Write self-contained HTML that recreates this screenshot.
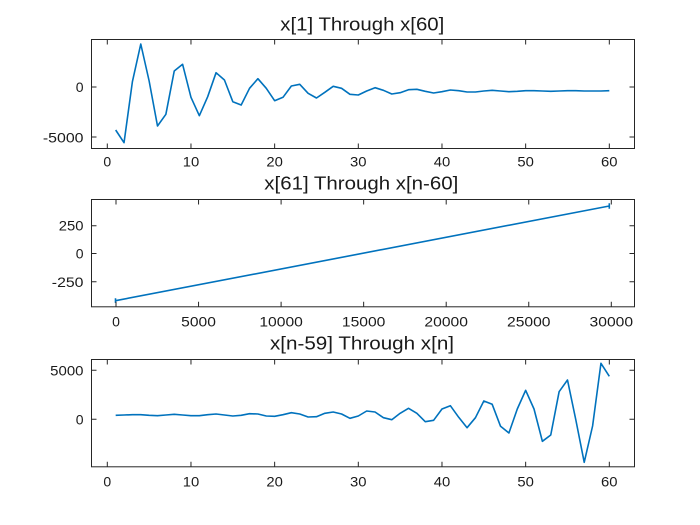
<!DOCTYPE html>
<html>
<head>
<meta charset="utf-8">
<style>
  html,body{margin:0;padding:0;background:#fff;}
  svg{display:block;}
  text{font-family:"Liberation Sans",sans-serif;fill:#1a1a1a;}
  .tk{font-size:14px;}
  .ti{font-size:18px;}
</style>
</head>
<body>
<svg width="700" height="525" viewBox="0 0 700 525" xmlns="http://www.w3.org/2000/svg">
<rect width="700" height="525" fill="#fff"/>

<!-- ===== Panel 1 ===== -->
<text class="ti" x="362.3" y="30.5" text-anchor="middle" textLength="164" lengthAdjust="spacingAndGlyphs">x[1] Through x[60]</text>
<polyline fill="none" stroke="#0072BD" stroke-width="1.6" stroke-linejoin="round" points="
115.67,130 124.03,142.7 132.40,81.7 140.77,44 149.14,81 157.50,126 165.87,114.3 174.24,71 182.60,64.3 190.97,97.3
199.34,115.7 207.70,96.7 216.07,72.7 224.44,80 232.81,101.7 241.17,105 249.54,88.3 257.91,78.7 266.27,88.3 274.64,100.7
283.01,97.3 291.37,86 299.74,84.3 308.11,93.3 316.48,98 324.84,92.3 333.21,86.3 341.58,88.3 349.94,94.3 358.31,95
366.68,91 375.04,87.7 383.41,90.3 391.78,94 400.15,92.7 408.51,89.7 416.88,89.3 425.25,91.3 433.61,93 441.98,91.7
450.35,90 458.71,90.7 467.08,92 475.45,92 483.82,91 492.18,90.3 500.55,91 508.92,91.7 517.28,91.3 525.65,90.7
534.02,90.7 542.38,91 550.75,91.3 559.12,91 567.49,90.7 575.85,90.7 584.22,91 592.59,91 600.95,91 609.32,90.7"/>
<g stroke="#262626" stroke-width="1" fill="none">
  <rect x="91.5" y="39.5" width="543" height="109"/>
  <!-- x ticks bottom & top -->
  <path d="M107.3,148.5v-5M190.97,148.5v-5M274.64,148.5v-5M358.31,148.5v-5M441.98,148.5v-5M525.65,148.5v-5M609.32,148.5v-5
           M107.3,39.5v5M190.97,39.5v5M274.64,39.5v5M358.31,39.5v5M441.98,39.5v5M525.65,39.5v5M609.32,39.5v5"/>
  <!-- y ticks left & right -->
  <path d="M91.5,87h5M91.5,137h5M634.5,87h-5M634.5,137h-5"/>
</g>
<g class="tk" text-anchor="end">
  <text x="83.5" y="92">0</text>
  <text x="83.5" y="142.3" textLength="40.6" lengthAdjust="spacingAndGlyphs">-5000</text>
</g>
<g class="tk" text-anchor="middle">
  <text x="107.3" y="166.6">0</text>
  <text x="190.97" y="166.6" textLength="16.5" lengthAdjust="spacingAndGlyphs">10</text>
  <text x="274.64" y="166.6" textLength="16.5" lengthAdjust="spacingAndGlyphs">20</text>
  <text x="358.31" y="166.6" textLength="16.5" lengthAdjust="spacingAndGlyphs">30</text>
  <text x="441.98" y="166.6" textLength="16.5" lengthAdjust="spacingAndGlyphs">40</text>
  <text x="525.65" y="166.6" textLength="16.5" lengthAdjust="spacingAndGlyphs">50</text>
  <text x="609.32" y="166.6" textLength="16.5" lengthAdjust="spacingAndGlyphs">60</text>
</g>

<!-- ===== Panel 2 ===== -->
<text class="ti" x="361.3" y="189.5" text-anchor="middle" textLength="194" lengthAdjust="spacingAndGlyphs">x[61] Through x[n-60]</text>
<g stroke="#0072BD" stroke-width="1.6" fill="none">
  <path d="M115.5,300.7L609.3,206"/>
  <path d="M115.5,298.3V302.9M609.3,203.3V208.7"/>
</g>
<g stroke="#262626" stroke-width="1" fill="none">
  <rect x="91.5" y="199.5" width="543" height="107.3"/>
  <path d="M116,306.8v-5M198.55,306.8v-5M281.1,306.8v-5M363.65,306.8v-5M446.2,306.8v-5M528.75,306.8v-5M611.3,306.8v-5
           M116,199.5v5M198.55,199.5v5M281.1,199.5v5M363.65,199.5v5M446.2,199.5v5M528.75,199.5v5M611.3,199.5v5"/>
  <path d="M91.5,225.7h5M91.5,253.5h5M91.5,281.8h5M634.5,225.7h-5M634.5,253.5h-5M634.5,281.8h-5"/>
</g>
<g class="tk" text-anchor="end">
  <text x="83.5" y="230.7" textLength="24.7" lengthAdjust="spacingAndGlyphs">250</text>
  <text x="83.5" y="258.5">0</text>
  <text x="83.5" y="286.8" textLength="31.7" lengthAdjust="spacingAndGlyphs">-250</text>
</g>
<g class="tk" text-anchor="middle">
  <text x="116" y="326.6">0</text>
  <text x="198.55" y="326.6" textLength="34.7" lengthAdjust="spacingAndGlyphs">5000</text>
  <text x="281.1" y="326.6" textLength="43.5" lengthAdjust="spacingAndGlyphs">10000</text>
  <text x="363.65" y="326.6" textLength="43.5" lengthAdjust="spacingAndGlyphs">15000</text>
  <text x="446.2" y="326.6" textLength="43.5" lengthAdjust="spacingAndGlyphs">20000</text>
  <text x="528.75" y="326.6" textLength="43.5" lengthAdjust="spacingAndGlyphs">25000</text>
  <text x="611.3" y="326.6" textLength="43.5" lengthAdjust="spacingAndGlyphs">30000</text>
</g>

<!-- ===== Panel 3 ===== -->
<text class="ti" x="362" y="349.5" text-anchor="middle" textLength="184" lengthAdjust="spacingAndGlyphs">x[n-59] Through x[n]</text>
<polyline fill="none" stroke="#0072BD" stroke-width="1.6" stroke-linejoin="round" points="
115.67,415.3 124.03,415 132.40,414.7 140.77,414.7 149.14,415.3 157.50,415.7 165.87,415 174.24,414.3 182.60,415 190.97,415.7
199.34,415.7 207.70,414.7 216.07,414 224.44,415 232.81,416 241.17,415.3 249.54,413.7 257.91,414 266.27,416 274.64,416.3
283.01,414.7 291.37,412.7 299.74,414 308.11,417 316.48,416.7 324.84,413.3 333.21,412 341.58,414 349.94,418.3 358.31,416
366.68,411 375.04,412 383.41,417.7 391.78,419.7 400.15,413.3 408.51,408.3 416.88,413.3 425.25,421.7 433.61,420.3 441.98,409
450.35,405.7 458.71,417.3 467.08,427.7 475.45,417.7 483.82,401 492.18,404.3 500.55,426.3 508.92,433 517.28,409 525.65,390.3
534.02,409 542.38,441.3 550.75,435 559.12,391.7 567.49,380 575.85,420 584.22,462.3 592.59,426 600.95,363.3 609.32,376.3"/>
<g stroke="#262626" stroke-width="1" fill="none">
  <rect x="91.5" y="359.5" width="543" height="107.3"/>
  <path d="M107.3,466.8v-5M190.97,466.8v-5M274.64,466.8v-5M358.31,466.8v-5M441.98,466.8v-5M525.65,466.8v-5M609.32,466.8v-5
           M107.3,359.5v5M190.97,359.5v5M274.64,359.5v5M358.31,359.5v5M441.98,359.5v5M525.65,359.5v5M609.32,359.5v5"/>
  <path d="M91.5,370.3h5M91.5,419.3h5M634.5,370.3h-5M634.5,419.3h-5"/>
</g>
<g class="tk" text-anchor="end">
  <text x="83.5" y="375.3" textLength="33.3" lengthAdjust="spacingAndGlyphs">5000</text>
  <text x="83.5" y="424.3">0</text>
</g>
<g class="tk" text-anchor="middle">
  <text x="107.3" y="486.6">0</text>
  <text x="190.97" y="486.6" textLength="16.5" lengthAdjust="spacingAndGlyphs">10</text>
  <text x="274.64" y="486.6" textLength="16.5" lengthAdjust="spacingAndGlyphs">20</text>
  <text x="358.31" y="486.6" textLength="16.5" lengthAdjust="spacingAndGlyphs">30</text>
  <text x="441.98" y="486.6" textLength="16.5" lengthAdjust="spacingAndGlyphs">40</text>
  <text x="525.65" y="486.6" textLength="16.5" lengthAdjust="spacingAndGlyphs">50</text>
  <text x="609.32" y="486.6" textLength="16.5" lengthAdjust="spacingAndGlyphs">60</text>
</g>
</svg>
</body>
</html>
